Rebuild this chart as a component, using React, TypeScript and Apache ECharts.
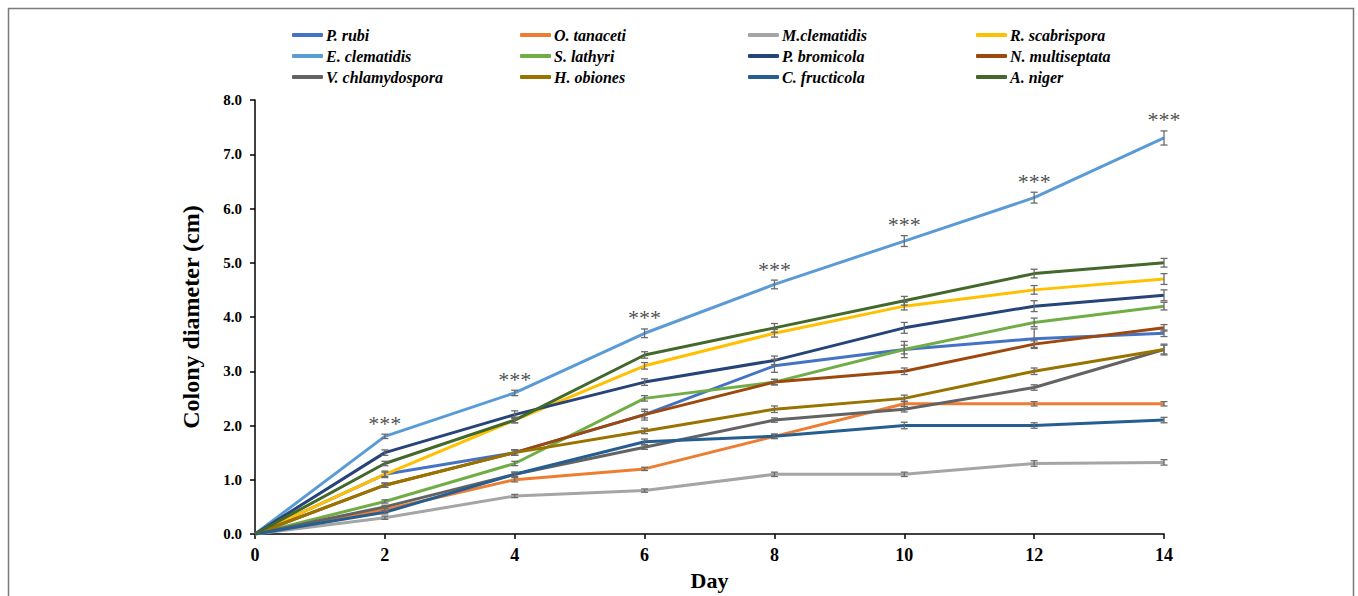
import React, { useEffect, useRef } from "react";
import * as echarts from "echarts";

const days = [0, 2, 4, 6, 8, 10, 12, 14];
const yTicks = [0, 1, 2, 3, 4, 5, 6, 7, 8];

const names = [
  "P. rubi", "O. tanaceti", "M.clematidis", "R. scabrispora",
  "E. clematidis", "S. lathyri", "P. bromicola", "N. multiseptata",
  "V. chlamydospora", "H. obiones", "C. fructicola", "A. niger",
];
const colors = [
  "#4472C4", "#ED7D31", "#A5A5A5", "#FFC000",
  "#5B9BD5", "#70AD47", "#264478", "#9E480E",
  "#636363", "#997300", "#255E91", "#43682B",
];

const pRubi = [0, 1.1, 1.5, 2.2, 3.1, 3.4, 3.6, 3.7];
const oTanaceti = [0, 0.45, 1.0, 1.2, 1.8, 2.4, 2.4, 2.4];
const mClematidis = [0, 0.3, 0.7, 0.8, 1.1, 1.1, 1.3, 1.32];
const rScabrispora = [0, 1.1, 2.1, 3.1, 3.7, 4.2, 4.5, 4.7];
const eClematidis = [0, 1.8, 2.6, 3.7, 4.6, 5.4, 6.2, 7.3];
const sLathyri = [0, 0.6, 1.3, 2.5, 2.8, 3.4, 3.9, 4.2];
const pBromicola = [0, 1.5, 2.2, 2.8, 3.2, 3.8, 4.2, 4.4];
const nMultiseptata = [0, 0.9, 1.5, 2.2, 2.8, 3.0, 3.5, 3.8];
const vChlamydospora = [0, 0.5, 1.1, 1.6, 2.1, 2.3, 2.7, 3.4];
const hObiones = [0, 0.9, 1.5, 1.9, 2.3, 2.5, 3.0, 3.4];
const cFructicola = [0, 0.4, 1.1, 1.7, 1.8, 2.0, 2.0, 2.1];
const aNiger = [0, 1.3, 2.1, 3.3, 3.8, 4.3, 4.8, 5.0];

const errPRubi = [0, 0.06, 0.05, 0.06, 0.12, 0.15, 0.18, 0.06];
const errOTanaceti = [0, 0.03, 0.04, 0.03, 0.04, 0.05, 0.04, 0.04];
const errMClematidis = [0, 0.03, 0.03, 0.03, 0.04, 0.04, 0.05, 0.05];
const errRScabrispora = [0, 0.04, 0.05, 0.06, 0.07, 0.07, 0.08, 0.1];
const errEClematidis = [0, 0.04, 0.05, 0.08, 0.08, 0.1, 0.1, 0.13];
const errSLathyri = [0, 0.03, 0.04, 0.05, 0.05, 0.08, 0.08, 0.07];
const errPBromicola = [0, 0.05, 0.07, 0.06, 0.08, 0.1, 0.1, 0.1];
const errNMultiseptata = [0, 0.04, 0.05, 0.1, 0.05, 0.06, 0.06, 0.06];
const errVChlamydospora = [0, 0.03, 0.04, 0.04, 0.04, 0.05, 0.05, 0.1];
const errHObiones = [0, 0.04, 0.05, 0.05, 0.06, 0.06, 0.06, 0.08];
const errCFructicola = [0, 0.03, 0.04, 0.05, 0.04, 0.06, 0.05, 0.05];
const errANiger = [0, 0.04, 0.05, 0.06, 0.08, 0.08, 0.08, 0.08];

const starDays = [2, 4, 6, 8, 10, 12, 14];
const starText = "***";

const seriesValues = [
  pRubi, oTanaceti, mClematidis, rScabrispora, eClematidis, sLathyri,
  pBromicola, nMultiseptata, vChlamydospora, hObiones, cFructicola, aNiger,
];
const seriesErrors = [
  errPRubi, errOTanaceti, errMClematidis, errRScabrispora, errEClematidis, errSLathyri,
  errPBromicola, errNMultiseptata, errVChlamydospora, errHObiones, errCFructicola, errANiger,
];

const FONT = "'Liberation Serif', 'Times New Roman', serif";

export default function App() {
  const ref = useRef<HTMLDivElement>(null);
  useEffect(() => {
    if (!ref.current) return;
    const chart = echarts.init(ref.current, undefined, { renderer: "svg" });

    const lineSeries = names.map((n, i) => ({
      name: n,
      type: "line",
      data: days.map((d, j) => [d, seriesValues[i][j]]),
      showSymbol: false,
      symbol: "none",
      lineStyle: { width: 3, color: colors[i] },
      itemStyle: { color: colors[i] },
      z: 2,
    }));

    const errData: number[][] = [];
    seriesValues.forEach((vals, i) => {
      days.forEach((d, j) => {
        if (d > 0) errData.push([d, vals[j], seriesErrors[i][j]]);
      });
    });

    const errSeries = {
      type: "custom",
      silent: true,
      z: 3,
      data: errData,
      renderItem: (params: any, api: any) => {
        const x = api.value(0);
        const y = api.value(1);
        const e = api.value(2);
        const t = api.coord([x, y + e]);
        const b = api.coord([x, y - e]);
        const w = 3.5;
        const st = { stroke: "#6b6b6b", lineWidth: 1.3 };
        return {
          type: "group",
          children: [
            { type: "line", shape: { x1: t[0], y1: t[1], x2: b[0], y2: b[1] }, style: st },
            { type: "line", shape: { x1: t[0] - w, y1: t[1], x2: t[0] + w, y2: t[1] }, style: st },
            { type: "line", shape: { x1: b[0] - w, y1: b[1], x2: b[0] + w, y2: b[1] }, style: st },
          ],
        };
      },
    };

    const starSeries = {
      type: "scatter",
      silent: true,
      symbolSize: 0,
      z: 4,
      data: starDays.map((d) => {
        const j = days.indexOf(d);
        return [d, eClematidis[j] + errEClematidis[j]];
      }),
      label: {
        show: true,
        position: "top",
        distance: 0,
        formatter: starText,
        fontFamily: FONT,
        fontSize: 22,
        color: "#1a1a1a",
      },
    };

    const colLeft = [292, 520, 748, 976];
    const legends = colLeft.map((left, c) => ({
      orient: "vertical",
      left,
      top: 26,
      padding: 0,
      itemGap: 3,
      itemWidth: 31,
      itemHeight: 4,
      icon: "roundRect",
      selectedMode: false,
      data: [names[c], names[c + 4], names[c + 8]],
      textStyle: {
        fontFamily: FONT,
        fontSize: 16,
        fontWeight: "bold",
        fontStyle: "italic",
        color: "#000",
        lineHeight: 18,
        padding: [0, 0, 0, -2],
      },
    }));

    chart.setOption({
      animation: false,
      backgroundColor: "#fff",
      legend: legends,
      grid: { left: 255, right: 194, top: 100, bottom: 62, containLabel: false },
      xAxis: {
        type: "value",
        min: 0,
        max: 14,
        interval: 2,
        name: "Day",
        nameLocation: "middle",
        nameGap: 35,
        nameTextStyle: { fontFamily: FONT, fontSize: 22, fontWeight: "bold", color: "#000" },
        axisLine: { lineStyle: { color: "#000", width: 1.5 } },
        axisTick: { show: true, inside: false, length: 5, lineStyle: { color: "#000", width: 1.5 } },
        axisLabel: { margin: 12, fontFamily: FONT, fontSize: 18, fontWeight: "bold", color: "#000" },
        splitLine: { show: false },
      },
      yAxis: {
        type: "value",
        min: yTicks[0],
        max: yTicks[yTicks.length - 1],
        interval: 1,
        name: "Colony diameter (cm)",
        nameLocation: "middle",
        nameGap: 52,
        nameTextStyle: { fontFamily: FONT, fontSize: 24, fontWeight: "bold", color: "#000" },
        axisLine: { show: true, lineStyle: { color: "#000", width: 1.5 } },
        axisTick: { show: true, inside: false, length: 5, lineStyle: { color: "#000", width: 1.5 } },
        axisLabel: {
          margin: 13,
          fontFamily: FONT,
          fontSize: 15,
          fontWeight: "bold",
          color: "#000",
          formatter: (v: number) => v.toFixed(1),
        },
        splitLine: { show: false },
      },
      graphic: [
        {
          type: "rect",
          silent: true,
          z: -1,
          shape: { x: 8.5, y: 8.5, width: 1345, height: 600 },
          style: { fill: "none", stroke: "#7a7a7a", lineWidth: 1.5 },
        },
      ],
      series: [...lineSeries, errSeries, starSeries],
    });

    return () => chart.dispose();
  }, []);

  return (
    <div
      ref={ref}
      style={{ position: "fixed", left: 0, top: 0, width: 1358, height: 596, background: "#fff" }}
    />
  );
}
